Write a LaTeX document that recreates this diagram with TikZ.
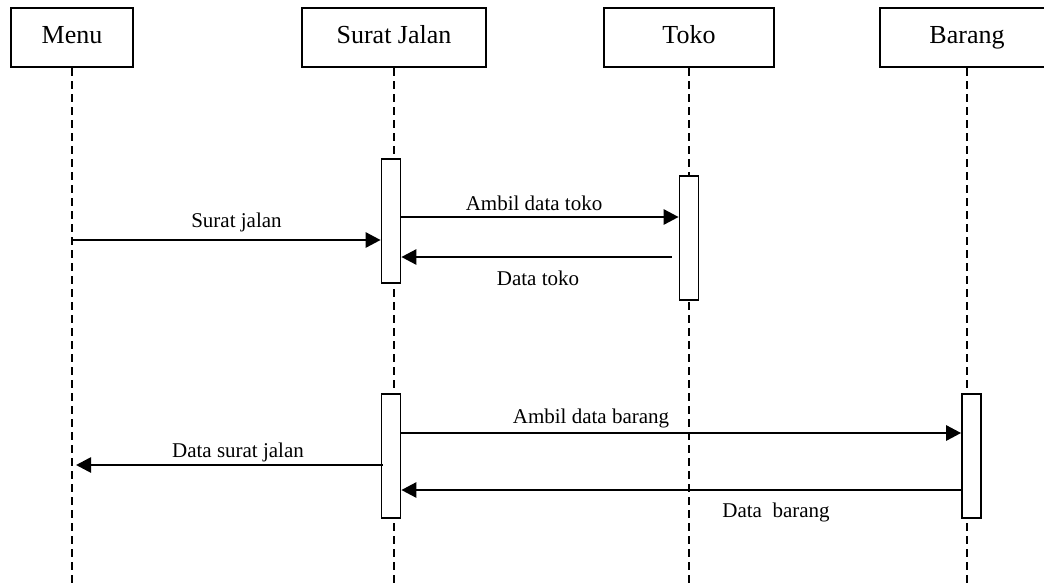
\documentclass[tikz,border=0pt]{standalone}
\usepackage{fontspec}
\setmainfont{Liberation Serif}
\usetikzlibrary{arrows.meta}
\tikzset{
  actor/.style={draw, line width=2pt, minimum height=59pt, inner sep=0pt,
    text height=17pt, text depth=5pt, font=\fontsize{26}{30}\selectfont},
  actbar/.style={draw, fill=white, line width=1.7pt, minimum width=19pt,
    inner sep=0pt, anchor=north},
  lifeline/.style={line width=1.7pt, dash pattern=on 8pt off 5pt},
  msg/.style={line width=2.7pt, -{Triangle[length=15pt,width=15pt]}},
  lbl/.style={font=\fontsize{21}{25}\selectfont, anchor=base, inner sep=0pt},
}
\begin{document}
\begin{tikzpicture}[x=1pt, y=-1pt]
  \useasboundingbox (0,0) rectangle (1044,587);
  \clip (0,0) rectangle (1044,587);

  % participants
  \node[actor, minimum width=122pt] (menu) at (72,37.5) {Menu};
  \node[actor, minimum width=184pt] (sj)   at (394,37.5) {Surat Jalan};
  \node[actor, minimum width=170pt] (toko) at (689,37.5) {Toko};
  \node[actor, minimum width=174pt] (brg)  at (967,37.5) {Barang};

  % lower ends of the lifelines
  \coordinate (menuEnd) at (menu.south |- 0,590);
  \coordinate (sjEnd)   at (sj.south |- 0,590);
  \coordinate (tokoEnd) at (toko.south |- 0,590);
  \coordinate (brgEnd)  at (brg.south |- 0,590);

  \draw[lifeline] (menu.south) -- (menuEnd);
  \draw[lifeline] (sj.south) -- (sjEnd);
  \draw[lifeline] (toko.south) -- (tokoEnd);
  \draw[lifeline] (brg.south) -- (brgEnd);

  % activation bars
  \node[actbar, minimum height=124pt] (sj1)  at (391,158) {};
  \node[actbar, minimum height=124pt] (tk1)  at (689,175) {};
  \node[actbar, minimum height=124pt] (sj2)  at (391,393) {};
  \node[actbar, minimum height=124pt] (brg1) at (971.5,393) {};

  % messages
  \draw[msg] (menu.south |- 0,240) -- (sj1.west |- 0,240);
  \draw[msg] (sj1.east |- 0,217) -- (tk1.west |- 0,217);
  \draw[msg, shorten <=7pt] (tk1.west |- 0,257) -- (sj1.east |- 0,257);
  \draw[msg] (sj2.east |- 0,433) -- (brg1.west |- 0,433);
  \draw[msg, shorten <=-2pt, shorten >=4pt] (sj2.west |- 0,465) -- (menu.south |- 0,465);
  \draw[msg] (brg1.west |- 0,490) -- (sj2.east |- 0,490);

  % message labels
  \node[lbl] (l1) at (236.5,227) {Surat jalan};
  \node[lbl] (l2) at (534,210) {Ambil data toko};
  \node[lbl] (l3) at (538,285) {Data toko};
  \node[lbl] (l4) at (591,423) {Ambil data barang};
  \node[lbl] (l5) at (238,457) {Data surat jalan};
  \node[lbl] (l6) at (776,517) {Data\ \ barang};
\end{tikzpicture}
\end{document}
